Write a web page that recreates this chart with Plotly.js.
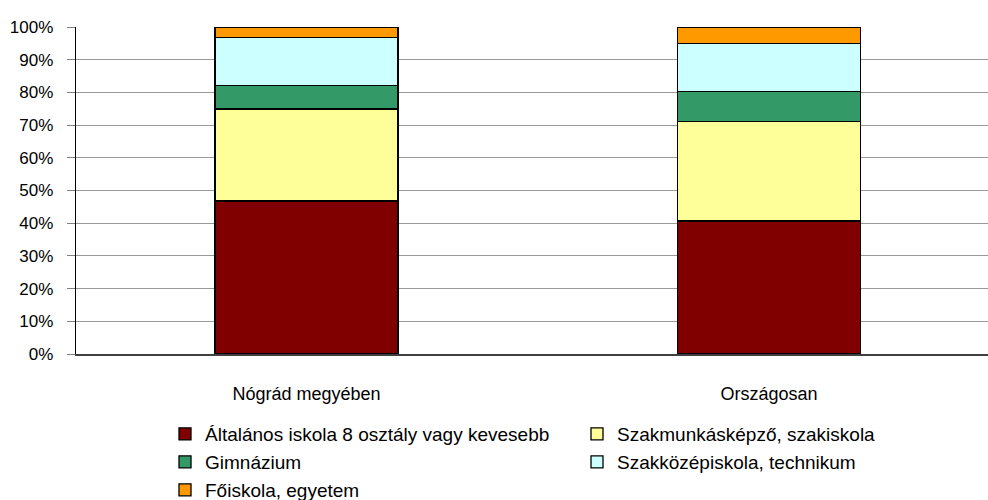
<!DOCTYPE html>
<html>
<head>
<meta charset="utf-8">
<script src="https://cdn.plot.ly/plotly-3.0.1.min.js"></script>
<style>
html, body { margin: 0; padding: 0; background: #fff; }
#chart { width: 988px; height: 500px; }
</style>
</head>
<body>
<div id="chart"></div>
<script>
const categories = ['Nógrád megyében', 'Országosan'];
const seriesNames = [
  'Általános iskola 8 osztály vagy kevesebb',
  'Szakmunkásképző, szakiskola',
  'Gimnázium',
  'Szakközépiskola, technikum',
  'Főiskola, egyetem'
];
const altalanos = [46.8, 40.7];
const szakmunkas = [28.1, 30.5];
const gimnazium = [7.2, 9.1];
const szakkozep = [14.7, 14.7];
const foiskola = [3.2, 5.0];
const yTicks = [0, 10, 20, 30, 40, 50, 60, 70, 80, 90, 100];

const values = [altalanos, szakmunkas, gimnazium, szakkozep, foiskola];
const colors = ['#800000', '#FFFF99', '#339966', '#CCFFFF', '#FF9900'];
const legendIds = ['legend', 'legend', 'legend2', 'legend2', 'legend3'];

const traces = values.map((v, i) => ({
  type: 'bar',
  x: categories,
  y: v,
  name: seriesNames[i],
  legend: legendIds[i],
  width: 0.396,
  marker: { color: colors[i], line: { color: '#000000', width: 1.3 } },
  hoverinfo: 'none'
}));

const tickFont = { family: 'Liberation Sans, Arial, sans-serif', size: 17, color: '#000' };
const catFont = { family: 'Liberation Sans, Arial, sans-serif', size: 18, color: '#000' };
const legendFont = { family: 'Liberation Sans, Arial, sans-serif', size: 19, color: '#000' };
const legendCommon = {
  orientation: 'h',
  xref: 'container', yref: 'container',
  x: 165 / 988,
  xanchor: 'left', yanchor: 'middle',
  entrywidth: 367,
  traceorder: 'normal',
  font: legendFont,
  bgcolor: 'rgba(0,0,0,0)',
  borderwidth: 0
};

const layout = {
  width: 988, height: 500,
  margin: { l: 76, r: 0, t: 27, b: 146 },
  paper_bgcolor: '#fff', plot_bgcolor: '#fff',
  barmode: 'stack',
  font: tickFont,
  showlegend: true,
  xaxis: {
    type: 'category',
    range: [-0.4984, 1.4735],
    showgrid: false,
    showline: true, linecolor: '#404040', linewidth: 1.5,
    ticks: '',
    ticklabelstandoff: 23,
    tickfont: catFont,
    fixedrange: true
  },
  yaxis: {
    range: [0, 100],
    tickvals: yTicks,
    ticktext: yTicks.map(t => t + '%'),
    showgrid: true, gridcolor: '#999999', gridwidth: 1.2,
    showline: true, linecolor: '#000000', linewidth: 1.3,
    ticks: 'outside', ticklen: 8, tickcolor: '#808080', tickwidth: 1,
    ticklabelstandoff: 10,
    zeroline: false,
    tickfont: tickFont,
    fixedrange: true
  },
  legend: Object.assign({}, legendCommon, { y: 1 - 434 / 500 }),
  legend2: Object.assign({}, legendCommon, { y: 1 - 462 / 500 }),
  legend3: Object.assign({}, legendCommon, { y: 1 - 490 / 500 })
};

Plotly.newPlot('chart', traces, layout, { displayModeBar: false, staticPlot: true });
</script>
</body>
</html>
